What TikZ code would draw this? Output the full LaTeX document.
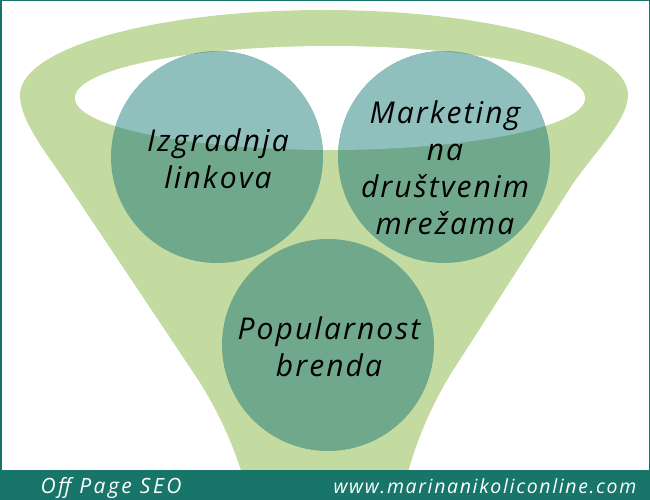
\documentclass[tikz,border=0pt]{standalone}
\usepackage{fontspec}
\setmainfont{Open Sans}
\newfontfamily\labelfont[LetterSpace=7]{Open Sans}
\newfontfamily\footfont[LetterSpace=8.5]{Open Sans}
\newfontfamily\footfontwide[LetterSpace=12]{Open Sans}
\definecolor{funnel}{HTML}{C3DBA0}
\definecolor{bubbledark}{HTML}{6FA88A}
\definecolor{bubblelight}{HTML}{8FC0BE}
\definecolor{barteal}{HTML}{18756A}
\begin{document}
\begin{tikzpicture}[x=1pt,y=-1pt,
  bubble/.style={circle, fill=bubbledark, minimum size=212pt, inner sep=0pt},
  lbl/.style={font=\labelfont\itshape\fontsize{30}{37}\selectfont, align=center, text=black},
  foot/.style={text=white, anchor=base west}]
\useasboundingbox (0,0) rectangle (650,500);
\fill[white] (0,0) rectangle (650,500);
% funnel
\fill[funnel] (324,10) .. controls (156,10) and (20,48) .. (20,95)
  .. controls (20,120) and (44,150) .. (68,185)
  -- (195,375) .. controls (215,405) and (232,440) .. (244,480)
  -- (406,480) .. controls (416,440) and (432,405) .. (450,375)
  -- (572,185) .. controls (596,150) and (628,120) .. (628,95)
  .. controls (628,48) and (492,10) .. (324,10) -- cycle;
\fill[white] (330,98) ellipse [x radius=255pt, y radius=52pt];
% bubbles
\node[bubble] (c1) at (217,157) {};
\node[bubble] (c2) at (444,157) {};
\node[bubble] (c3) at (328,345) {};
\begin{scope}
  \clip (330,98) ellipse [x radius=255pt, y radius=52pt];
  \fill[bubblelight] (c1.center) circle [radius=106pt];
  \fill[bubblelight] (c2.center) circle [radius=106pt];
\end{scope}
\node[lbl] (t1) at (218,159) {Izgradnja\\linkova};
\node[lbl] (t2) at (445,168) {Marketing\\na\\društvenim\\mrežama};
\node[lbl] (t3) at (329,347) {Popularnost\\brenda};
% footer bar and frame
\fill[barteal] (0,471) rectangle (650,500);
\draw[barteal, line width=1.5pt] (0.75,0.75) rectangle (649.25,471);
\node[foot, font=\footfontwide\itshape\fontsize{21}{22}\selectfont] (f1) at (37,493) {Off Page SEO};
\node[foot, anchor=base east, font=\footfont\itshape\fontsize{19.5}{22}\selectfont] (f2) at (640,493) {www.marinanikoliconline.com};
\end{tikzpicture}
\end{document}
